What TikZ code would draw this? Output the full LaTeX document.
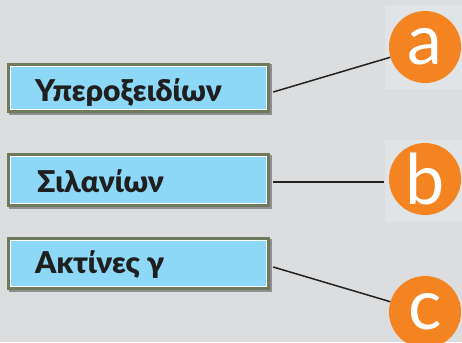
\documentclass[tikz,border=0pt]{standalone}
\usepackage{fontspec}
\setmainfont{Lato}
\newfontfamily\boxfont{Lato Black}
\usetikzlibrary{shadows}
\definecolor{bg}{HTML}{DCDDDF}
\definecolor{sq}{HTML}{E1E4E7}
\definecolor{olive}{HTML}{6E7A5C}
\definecolor{boxblue}{HTML}{8DD7F7}
\definecolor{circorange}{HTML}{F48422}
\definecolor{linec}{HTML}{222222}
\tikzset{
  box/.style={rectangle, fill=olive, minimum width=263pt, inner sep=0pt,
    drop shadow={shadow xshift=1.5pt, shadow yshift=-1.5pt, opacity=0.35, fill=black},
    path picture={\draw[white, line width=1pt, fill=boxblue]
      ([xshift=3.5pt,yshift=-3.5pt]path picture bounding box.north west) rectangle
      ([xshift=-3.5pt,yshift=3.5pt]path picture bounding box.south east);}},
  boxtext/.style={anchor=base west, inner sep=0pt, font=\boxfont\fontsize{30}{30}\selectfont, text=black!88},
  circ/.style={circle, fill=circorange, minimum size=72pt, inner sep=0pt, text=white,
    font=\fontsize{70}{70}\selectfont},
  conn/.style={draw=linec, line width=1.5pt}
}
\begin{document}
\begin{tikzpicture}[x=1pt,y=-1pt]
\fill[bg] (0,0) rectangle (462,342);
\useasboundingbox (0,0) rectangle (462,342);
\fill[sq] (385,5) rectangle (462,89);
\fill[sq] (385,140) rectangle (462,222);
\node[box, minimum height=50pt] (b1) at (138.5,88) {};
\node[box, minimum height=54pt] (b2) at (138.5,180) {};
\node[box, minimum height=53pt] (b3) at (138.5,263.5) {};
\node[boxtext] (t1) at (35,101) {Υπεροξειδίων};
\node[boxtext] (t2) at (37,192) {Σιλανίων};
\node[boxtext] (t3) at (35,273) {Ακτίνες γ};
\node[circ] (ca) at (425,47) {a};
\node[circ] (cb) at (425,179) {b};
\node[circ] (cc) at (425,312) {c};
\coordinate (s1) at ([shift={(3,4)}]b1.east);
\coordinate (s2) at ([shift={(3,2)}]b2.east);
\coordinate (s3) at ([shift={(3,3.5)}]b3.east);
\draw[conn] (s1) -- (ca);
\draw[conn, shorten >=5pt] (s2) -- (cb.west |- s2);
\draw[conn] (s3) -- (cc);
\end{tikzpicture}
\end{document}
